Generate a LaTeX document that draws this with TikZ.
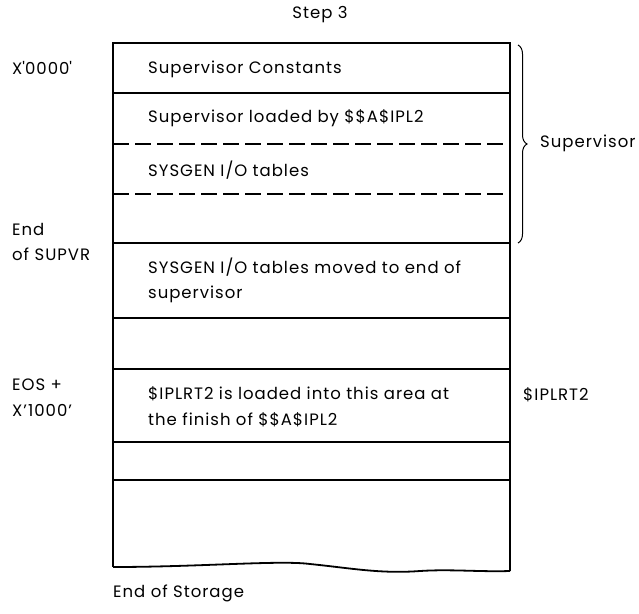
\documentclass[tikz,border=0pt]{standalone}
\usepackage{fontspec}
\setmainfont[LetterSpace=6]{Poppins}
\usetikzlibrary{decorations.pathreplacing}
\begin{document}
\begin{tikzpicture}[x=1pt,y=-1pt,
  lbl/.style={anchor=west,inner sep=0pt,font=\fontsize{16.5}{25}\selectfont},
  lbll/.style={anchor=west,inner sep=0pt,align=left,font=\fontsize{16.5}{25.5}\selectfont},
  thick border/.style={line width=2.8pt},
  divider/.style={line width=1.4pt},
  dashdiv/.style={line width=1.4pt,dash pattern=on 16pt off 6pt}]
\useasboundingbox (0,0) rectangle (639,613);
% box outline
\coordinate (tl) at (113,43);
\coordinate (tr) at (510,43);
\coordinate (bl) at (113,567);
\coordinate (br) at (510,571);
\draw[thick border] (bl) -- (tl) -- (tr) -- (br);
\draw[line width=1.8pt] (bl) .. controls (200,567) and (280,560) .. (310,564)
  .. controls (350,568) and (380,574) .. (420,571)
  .. controls (450,569) and (480,572) .. (br);
% dividers
\draw[divider] (113,93) -- (510,93);
\draw[dashdiv] (113,144) -- (510,144);
\draw[dashdiv] (113,194) -- (510,194);
\draw[divider] (113,243) -- (510,243);
\draw[divider] (113,318) -- (510,318);
\draw[divider] (113,369) -- (510,369);
\draw[divider] (113,442) -- (510,442);
\draw[divider] (113,480) -- (510,480);
% texts inside
\node[lbl] (c1) at (148,69) {Supervisor Constants};
\node[lbl] (c2) at (148,118) {Supervisor loaded by \$\$A\$IPL2};
\node[lbl] (c3) at (148,170) {SYSGEN I/O tables};
\node[lbll] (c4) at (148,280.5) {SYSGEN I/O tables moved to end of\\supervisor};
\node[lbll] (c5) at (148,406.5) {\$IPLRT2 is loaded into this area at\\the finish of \$\$A\$IPL2};
% outside labels
\node[lbl,anchor=center] (step) at (320,15) {Step 3};
\node[lbl] (x0) at (12,68) {X\textquotesingle 0000\textquotesingle};
\node[lbll] (eos) at (12,242) {End\\of SUPVR};
\node[lbll] (eos2) at (12,397.5) {EOS +\\X’1000’};
\node[lbl] (es) at (113,593) {End of Storage};
\node[lbl] (sup) at (540,143) {Supervisor};
\node[lbl] (ipl) at (523,395) {\$IPLRT2};
% brace
\coordinate (b1) at (518,45);
\coordinate (b2) at (518,243);
\draw[line width=1pt,decorate,decoration={brace,amplitude=9pt}] (b1) -- (b2);
\end{tikzpicture}
\end{document}
